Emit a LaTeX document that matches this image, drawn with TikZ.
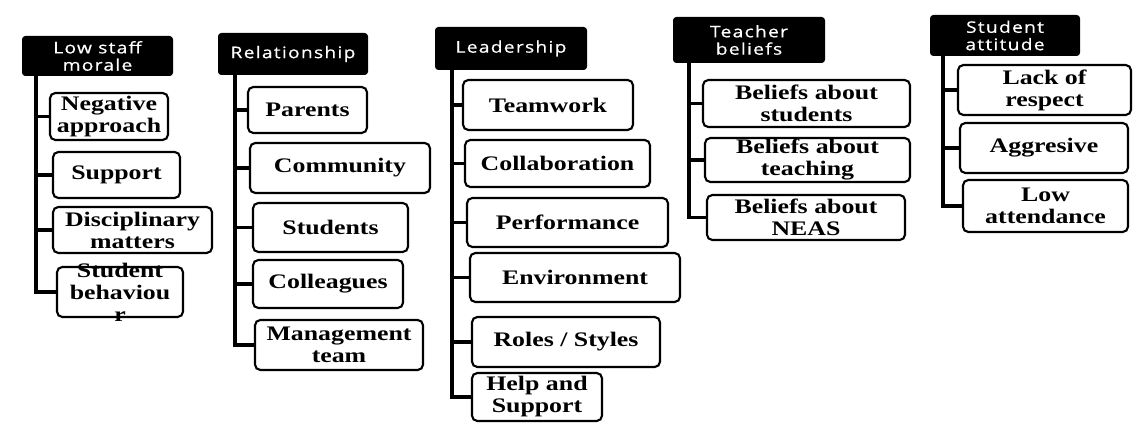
\documentclass[tikz,border=0pt]{standalone}
\usepackage{fontspec}
\newfontfamily\childfont[FakeStretch=1.25]{Liberation Serif}
\newfontfamily\headfont[FakeStretch=1.2,LetterSpace=8,FakeBold=0.6]{Open Sans}
\newcommand\mybox[6]{\node[chbox, minimum width={(#4-#2)*0.75pt}, minimum height={(#5-#3)*0.75pt}, label={[ctext]center:{#6}}] (#1) at ({(#2+#4)/2},{(#3+#5)/2}) {};}
\newcommand\myhead[6]{\node[hdr, minimum width={(#4-#2)*0.75pt}, minimum height={(#5-#3)*0.75pt}] (#1) at ({(#2+#4)/2},{(#3+#5)/2}) {#6};}
\begin{document}
\begin{tikzpicture}[x=0.75pt,y=-0.75pt,
 hdr/.style={fill=black, rounded corners=2.5pt, inner sep=0pt, text=white, align=center, font=\headfont\fontsize{12}{13}\selectfont},
 chbox/.style={draw=black, line width=1.6pt, rounded corners=4pt, fill=white, inner sep=0pt},
 ctext/.style={align=center, inner sep=0pt, font=\childfont\bfseries\fontsize{15.5}{16.5}\selectfont},
 trunk/.style={line width=2.6pt, line join=miter}]
\useasboundingbox (0,0) rectangle (1134,423);
% headers
\myhead{h1}{22}{36}{173}{76}{Low staff\\morale}
\myhead{h2}{218}{33}{368}{75}{Relationship}
\myhead{h3}{435}{27}{587}{70}{Leadership}
\myhead{h4}{673}{17}{825}{63}{Teacher\\beliefs}
\myhead{h5}{930}{15}{1080}{56}{Student\\attitude}
% trunk tops
\coordinate (t1) at (36,76);
\coordinate (t2) at (235,75);
\coordinate (t3) at (452,70);
\coordinate (t4) at (689,63);
\coordinate (t5) at (943,56);
% column 1
\mybox{n11}{50}{93}{168}{140}{Negative\\approach}
\mybox{n12}{53}{152}{180}{198}{Support}
\mybox{n13}{53}{207}{212}{253}{Disciplinary\\matters}
\mybox{n14}{57}{267}{183}{317}{Student\\behaviou\\r}
% column 2
\mybox{n21}{248}{87}{367}{133}{Parents}
\mybox{n22}{250}{143}{430}{193}{Community}
\mybox{n23}{253}{203}{408}{252}{Students}
\mybox{n24}{253}{260}{403}{308}{Colleagues}
\mybox{n25}{255}{320}{423}{370}{Management\\team}
% column 3
\mybox{n31}{463}{80}{633}{130}{Teamwork}
\mybox{n32}{465}{140}{650}{187}{Collaboration}
\mybox{n33}{467}{198}{668}{247}{Performance}
\mybox{n34}{470}{253}{680}{302}{Environment}
\mybox{n35}{472}{317}{660}{367}{Roles / Styles}
\mybox{n36}{472}{373}{602}{421}{Help and\\Support}
% column 4
\mybox{n41}{703}{80}{910}{127}{Beliefs about\\students}
\mybox{n42}{705}{138}{910}{182}{Beliefs about\\teaching}
\mybox{n43}{707}{195}{905}{240}{Beliefs about\\NEAS}
% column 5
\mybox{n51}{958}{65}{1131}{115}{Lack of\\respect}
\mybox{n52}{960}{123}{1128}{173}{Aggresive}
\mybox{n53}{963}{180}{1128}{232}{Low\\attendance}
% connectors
\foreach \c in {n11,n12,n13,n14} \draw[trunk] (t1) |- (\c.west);
\foreach \c in {n21,n22,n23,n24,n25} \draw[trunk] (t2) |- (\c.west);
\foreach \c in {n31,n32,n33,n34,n35,n36} \draw[trunk] (t3) |- (\c.west);
\foreach \c in {n41,n42,n43} \draw[trunk] (t4) |- (\c.west);
\foreach \c in {n51,n52,n53} \draw[trunk] (t5) |- (\c.west);
\end{tikzpicture}
\end{document}
